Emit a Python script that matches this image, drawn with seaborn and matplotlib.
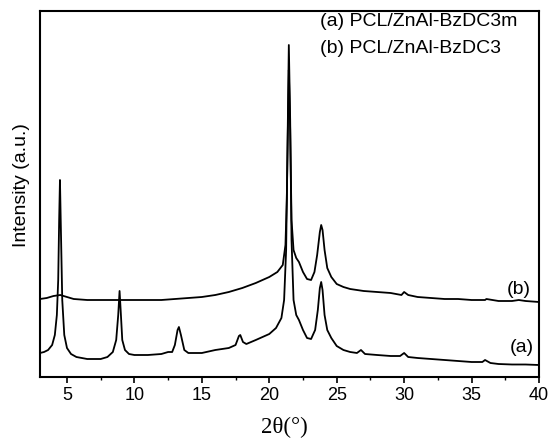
#XRD patterns of PCL / ZnAl-BzDC3 composites

import numpy as np
import pandas as pd
import matplotlib
matplotlib.use('Agg')
import matplotlib.pyplot as plt
import seaborn as sns
from matplotlib.ticker import MultipleLocator

#1.Data (2theta in degrees, intensity in a.u.)
two_theta_a=[3.0,3.3,3.6,3.9,4.1,4.25,4.35,4.42,4.48,4.55,4.65,4.8,5.0,5.3,5.7,6.5,7.5,8.0,8.4,
             8.65,8.8,8.9,8.98,9.1,9.3,9.6,10.0,11.0,12.0,12.5,12.8,13.0,13.2,13.3,13.45,13.7,
             14.0,15.0,16.0,17.0,17.5,17.75,17.85,18.05,18.3,19.0,20.0,20.5,20.9,21.1,21.25,
             21.35,21.45,21.55,21.65,21.8,22.0,22.2,22.5,22.8,23.1,23.4,23.6,23.75,23.85,23.95,
             24.1,24.3,24.6,25.0,25.5,26.0,26.5,26.8,27.1,28.0,29.0,29.7,30.0,30.3,31.0,32.0,
             33.0,34.0,35.0,35.8,36.0,36.4,37.0,38.0,39.0,40.0]
intensity_a=[24,25,27,32,42,62,97,157,197,147,77,42,29,23,20,18,18,20,25,
             37,62,86,67,37,27,23,22,22,23,25,25,32,47,50,42,27,
             24,24,27,29,32,41,42,35,33,37,43,49,59,77,127,
             227,332,257,137,77,62,57,47,39,38,47,67,89,95,87,
             62,47,39,31,27,25,24,27,23,22,21,21,24,20,19,18,
             17,16,15,15,17,14,13,12.5,12.5,12]

two_theta_b=[3.0,3.5,4.0,4.5,5.0,5.5,6.5,8.0,10.0,12.0,13.0,14.0,15.0,16.0,17.0,18.0,19.0,
             20.0,20.6,21.0,21.2,21.3,21.4,21.45,21.55,21.65,21.8,22.0,22.2,22.5,22.8,23.1,
             23.35,23.55,23.75,23.85,23.95,24.1,24.3,24.6,25.0,25.5,26.0,27.0,28.0,29.0,29.8,
             30.0,30.3,31.0,32.0,33.0,34.0,35.0,36.0,36.1,37.0,38.0,38.5,39.0,40.0]
intensity_b=[78,79,81,82,80,78,77,77,77,77,78,79,80,82,85,89,94,
             100,105,112,132,177,267,307,247,157,127,119,115,105,98,97,
             105,122,145,152,147,127,109,100,93,90,88,86,85,84,82,
             85,82,80,79,78,78,77,77,78,76,76,77,76,75]

legend_lines=['(a) PCL/ZnAl-BzDC3m','(b) PCL/ZnAl-BzDC3']
curve_tags=['(a)','(b)']

df_a=pd.DataFrame({'two_theta':two_theta_a,'intensity':intensity_a})
df_b=pd.DataFrame({'two_theta':two_theta_b,'intensity':intensity_b})

#2.Plot
sns.set_style('ticks')
plt.rcParams['font.family']=['Liberation Sans','DejaVu Sans']
plt.rcParams['text.color']='black'
plt.rcParams['axes.labelcolor']='black'
plt.rcParams['xtick.color']='black'

fig=plt.figure(figsize=(5.52,4.46),dpi=100)
ax=fig.add_axes([40/552,1-377/446,499/552,366/446])

sns.lineplot(data=df_a,x='two_theta',y='intensity',color='black',lw=1.3,ax=ax)
sns.lineplot(data=df_b,x='two_theta',y='intensity',color='black',lw=1.3,ax=ax)

ax.set_xlim(3,40)
ax.set_ylim(0,366)
ax.xaxis.set_major_locator(MultipleLocator(5))
ax.xaxis.set_minor_locator(MultipleLocator(2.5))
ax.tick_params(axis='x',which='major',direction='out',length=4,width=1.2,labelsize=13,pad=3)
ax.tick_params(axis='x',which='minor',direction='out',length=2.5,width=1.0)
ax.tick_params(axis='y',left=False,labelleft=False)
ax.set_yticks([])
for sp in ax.spines.values():
    sp.set_linewidth(1.5)
    sp.set_color('black')

ax.set_ylabel('Intensity (a.u.)',fontsize=14)
ax.yaxis.set_label_coords(-0.02,0.525)
ax.set_xlabel('2θ(°)',fontsize=16.5,family=['Liberation Serif','DejaVu Serif'])
ax.xaxis.set_label_coords(0.49,-0.11)

#legend written as plain text in the corner
ax.text(0.561,0.970,legend_lines[0],transform=ax.transAxes,ha='left',va='center',fontsize=14)
ax.text(0.561,0.898,legend_lines[1],transform=ax.transAxes,ha='left',va='center',fontsize=14)

#curve tags at the right end
ax.text(38.5,intensity_b[-1]+12,curve_tags[1],ha='center',va='center',fontsize=14)
ax.text(38.7,intensity_a[-1]+18,curve_tags[0],ha='center',va='center',fontsize=14)

plt.savefig('out.png',dpi=100)
